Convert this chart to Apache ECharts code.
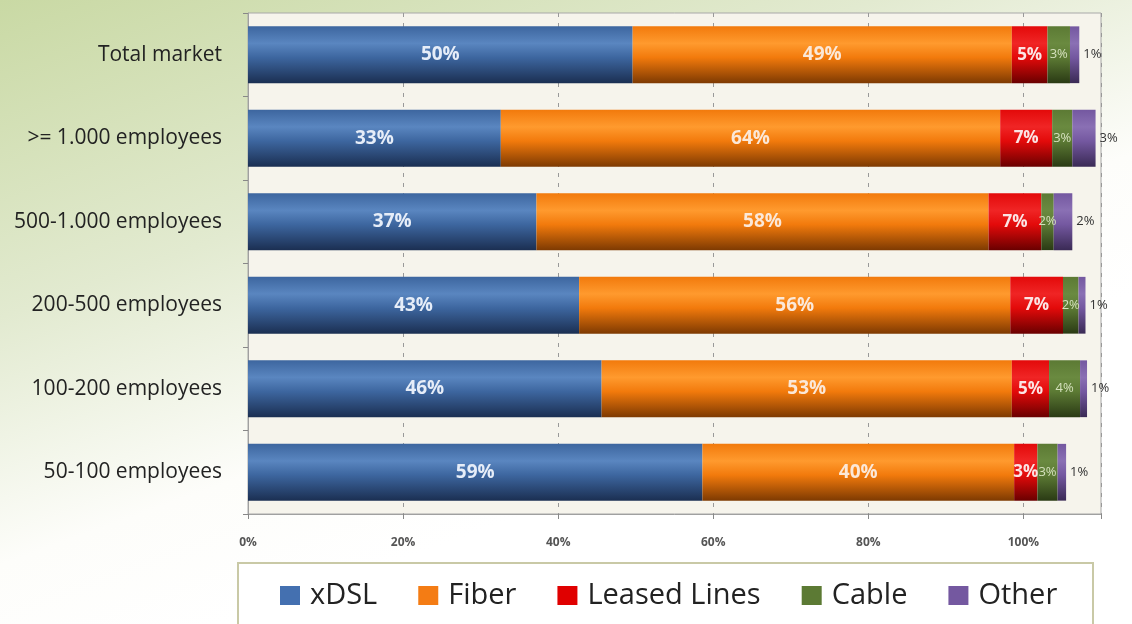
<!DOCTYPE html>
<html>
<head>
<meta charset="utf-8">
<script src="https://cdn.jsdelivr.net/npm/echarts@6/dist/echarts.min.js"></script>
<style>
html,body{margin:0;padding:0;}
#c{width:1132px;height:624px;}
</style>
</head>
<body>
<div id="c"></div>
<script>
const categories = ["50-100 employees","100-200 employees","200-500 employees","500-1.000 employees",">= 1.000 employees","Total market"];
const seriesNames = ["xDSL","Fiber","Leased Lines","Cable","Other"];
const xdsl   = [58.6, 45.6, 42.7, 37.2, 32.6, 49.6];
const fiber  = [40.2, 52.9, 55.6, 58.3, 64.4, 48.9];
const leased = [3.0, 4.8, 6.8, 6.8, 6.7, 4.6];
const cable  = [2.6, 4.0, 2.0, 1.6, 2.6, 2.9];
const other  = [1.1, 0.9, 0.9, 2.4, 3.0, 1.2];
const xTicks = [0, 20, 40, 60, 80, 100];

const FONT = '"Open Sans", Lato, sans-serif';
function grad(top, light, bottom) {
  return new echarts.graphic.LinearGradient(0, 0, 0, 1, [
    {offset: 0, color: top},
    {offset: 0.3, color: light},
    {offset: 0.55, color: top},
    {offset: 1, color: bottom}
  ]);
}
const fills = [
  grad('#3d669f', '#5a86c0', '#1b2f52'),
  grad('#f27a0c', '#ff9a2e', '#7e3a02'),
  grad('#e30a0a', '#f02525', '#6a0000'),
  grad('#5c7a34', '#6a8a40', '#2a3a14'),
  grad('#7458a0', '#8a70b4', '#3a2a55')
];
const legendColors = ['#4470b0', '#f47c14', '#e00000', '#5c7a34', '#7458a0'];
const dataArr = [xdsl, fiber, leased, cable, other];
const pct = p => Math.round(p.value) + '%';
const labelCfg = [
  {show: true, position: 'inside', formatter: pct, color: '#e6edf8', fontSize: 19, fontWeight: 'bold', fontFamily: FONT},
  {show: true, position: 'inside', formatter: pct, color: '#fbe8d8', fontSize: 19, fontWeight: 'bold', fontFamily: FONT},
  {show: true, position: 'inside', formatter: pct, color: '#fbe4e4', fontSize: 17, fontWeight: 'bold', fontFamily: FONT},
  {show: true, position: 'inside', formatter: pct, color: '#d4e0bc', fontSize: 13, fontFamily: FONT},
  {show: true, position: 'right', distance: 4, formatter: pct, color: '#333', fontSize: 13, fontFamily: FONT}
];

const series = seriesNames.map((name, i) => ({
  name: name,
  type: 'bar',
  stack: 'total',
  barWidth: '68%',
  data: dataArr[i],
  itemStyle: {color: fills[i]},
  label: labelCfg[i],
  emphasis: {disabled: true}
}));

const chart = echarts.init(document.getElementById('c'), null, {renderer: 'canvas'});
chart.setOption({
  animation: false,
  backgroundColor: new echarts.graphic.LinearGradient(0, 0, 0.2, 1, [
    {offset: 0, color: '#c9d9a4'},
    {offset: 0.45, color: '#e2ead0'},
    {offset: 0.8, color: '#fdfdfa'},
    {offset: 1, color: '#ffffff'}
  ]),
  graphic: [
    {type: 'rect', left: 237, top: 562, shape: {width: 855, height: 80},
     style: {fill: '#ffffff', stroke: '#c9c9a6', lineWidth: 2}, z: 0}
  ],
  grid: {left: 248, right: 31, top: 13, bottom: 110, show: true,
         backgroundColor: '#f6f4ec', borderColor: '#a8a8a8', borderWidth: 1},
  legend: {
    data: seriesNames.map((n, i) => ({name: n, itemStyle: {color: legendColors[i]}})),
    left: 275, top: 576, itemWidth: 20, itemHeight: 19, itemGap: 41,
    icon: 'rect',
    textStyle: {fontSize: 29, color: '#222', fontFamily: FONT, padding: [0, 0, 0, 5]}
  },
  xAxis: {
    type: 'value', min: 0, max: 110, interval: 20,
    axisLine: {show: true, lineStyle: {color: '#a0a0a0'}},
    axisTick: {show: true, length: 5, lineStyle: {color: '#888'}},
    axisLabel: {
      margin: 23, fontSize: 12, fontWeight: 'bold', color: '#555', fontFamily: FONT,
      formatter: v => xTicks.indexOf(v) >= 0 ? v + '%' : ''
    },
    splitLine: {show: true, lineStyle: {color: '#999', type: [4, 6], width: 1}}
  },
  yAxis: {
    type: 'category', data: categories,
    axisLine: {show: true, lineStyle: {color: '#a0a0a0'}},
    axisTick: {show: true, length: 5, lineStyle: {color: '#888'}},
    axisLabel: {margin: 26, fontSize: 21, color: '#222', fontFamily: FONT}
  },
  series: series
});
</script>
</body>
</html>
